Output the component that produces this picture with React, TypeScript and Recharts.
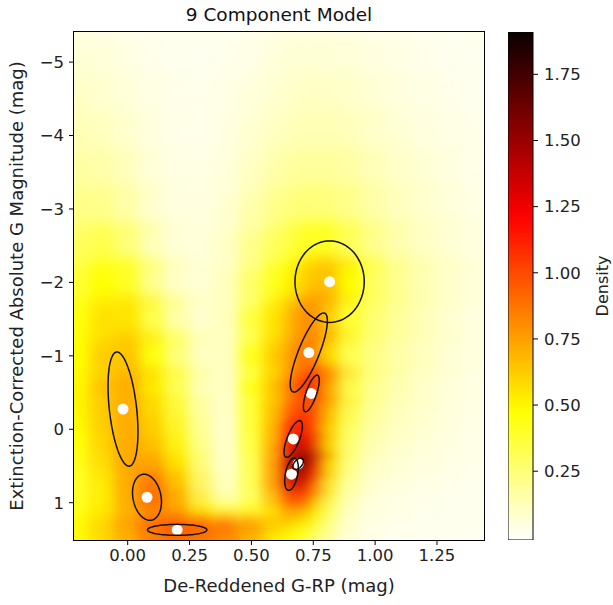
import React from 'react';
import { ScatterChart, Scatter, XAxis, YAxis, BarChart, Bar } from 'recharts';

// axes
const X_DOMAIN: [number, number] = [-0.217, 1.44];
const Y_DOMAIN: [number, number] = [-5.41, 1.508];
const X_TICKS = [0, 0.25, 0.5, 0.75, 1.0, 1.25];
const Y_TICKS = [-5, -4, -3, -2, -1, 0, 1];
const CBAR_TICKS = [0.25, 0.5, 0.75, 1.0, 1.25, 1.5, 1.75];
const VMIN = -0.01;
const VMAX = 1.91;

// density grid (column centres, row centres, values per row)
const gridX = [-0.2, -0.1, 0.0, 0.1, 0.2, 0.3, 0.4, 0.5, 0.6, 0.65, 0.7, 0.75, 0.8, 0.9, 1.0, 1.1, 1.2, 1.3, 1.4];
const gridY = [-5.4, -5.0, -4.5, -4.0, -3.5, -3.0, -2.5, -2.0, -1.5, -1.0, -0.5, -0.25, 0.0, 0.25, 0.5, 0.75, 1.0, 1.2, 1.35, 1.5];
const density = [
  [0.05, 0.04, 0.03, 0.02, 0.02, 0.02, 0.02, 0.03, 0.04, 0.05, 0.05, 0.05, 0.05, 0.04, 0.03, 0.03, 0.02, 0.02, 0.02],
  [0.07, 0.06, 0.04, 0.03, 0.02, 0.02, 0.03, 0.04, 0.06, 0.07, 0.07, 0.07, 0.07, 0.06, 0.05, 0.04, 0.03, 0.02, 0.02],
  [0.10, 0.08, 0.06, 0.04, 0.03, 0.03, 0.04, 0.06, 0.08, 0.09, 0.10, 0.10, 0.10, 0.09, 0.07, 0.05, 0.04, 0.03, 0.02],
  [0.13, 0.11, 0.08, 0.05, 0.03, 0.03, 0.05, 0.08, 0.11, 0.12, 0.13, 0.13, 0.13, 0.12, 0.09, 0.07, 0.05, 0.04, 0.03],
  [0.17, 0.15, 0.11, 0.06, 0.04, 0.04, 0.06, 0.11, 0.15, 0.17, 0.18, 0.18, 0.18, 0.16, 0.12, 0.09, 0.07, 0.05, 0.03],
  [0.22, 0.21, 0.15, 0.08, 0.05, 0.05, 0.08, 0.15, 0.21, 0.23, 0.25, 0.25, 0.24, 0.21, 0.15, 0.11, 0.08, 0.06, 0.04],
  [0.30, 0.33, 0.24, 0.12, 0.06, 0.06, 0.10, 0.21, 0.30, 0.35, 0.40, 0.42, 0.40, 0.30, 0.20, 0.14, 0.10, 0.07, 0.05],
  [0.38, 0.47, 0.40, 0.20, 0.09, 0.07, 0.12, 0.28, 0.42, 0.50, 0.58, 0.65, 0.65, 0.48, 0.28, 0.19, 0.13, 0.09, 0.06],
  [0.45, 0.56, 0.55, 0.33, 0.15, 0.08, 0.12, 0.36, 0.55, 0.66, 0.78, 0.80, 0.62, 0.38, 0.25, 0.18, 0.12, 0.08, 0.05],
  [0.48, 0.62, 0.64, 0.45, 0.24, 0.10, 0.11, 0.42, 0.62, 0.74, 0.85, 0.84, 0.58, 0.32, 0.22, 0.15, 0.11, 0.07, 0.05],
  [0.50, 0.66, 0.71, 0.52, 0.30, 0.11, 0.10, 0.45, 0.66, 0.84, 1.02, 1.08, 0.70, 0.32, 0.19, 0.13, 0.09, 0.06, 0.04],
  [0.50, 0.66, 0.72, 0.55, 0.33, 0.12, 0.09, 0.45, 0.70, 0.92, 1.02, 0.95, 0.60, 0.28, 0.16, 0.11, 0.08, 0.05, 0.04],
  [0.48, 0.65, 0.73, 0.58, 0.37, 0.13, 0.08, 0.44, 0.74, 1.10, 1.15, 0.88, 0.52, 0.24, 0.14, 0.10, 0.07, 0.05, 0.03],
  [0.45, 0.63, 0.74, 0.63, 0.42, 0.15, 0.07, 0.42, 0.78, 1.20, 1.35, 0.92, 0.46, 0.20, 0.12, 0.08, 0.06, 0.04, 0.03],
  [0.42, 0.60, 0.76, 0.72, 0.50, 0.18, 0.07, 0.38, 0.82, 1.38, 1.72, 1.08, 0.48, 0.17, 0.09, 0.07, 0.05, 0.04, 0.03],
  [0.40, 0.55, 0.76, 0.88, 0.58, 0.22, 0.07, 0.38, 0.82, 1.32, 1.42, 0.85, 0.38, 0.14, 0.07, 0.05, 0.04, 0.03, 0.02],
  [0.41, 0.54, 0.76, 0.93, 0.65, 0.28, 0.10, 0.33, 0.72, 1.05, 1.05, 0.65, 0.28, 0.10, 0.05, 0.04, 0.03, 0.02, 0.02],
  [0.44, 0.56, 0.72, 0.82, 0.72, 0.48, 0.36, 0.40, 0.55, 0.78, 0.72, 0.46, 0.20, 0.07, 0.04, 0.03, 0.02, 0.02, 0.02],
  [0.50, 0.65, 0.80, 0.95, 1.00, 0.95, 0.88, 0.75, 0.60, 0.60, 0.52, 0.35, 0.17, 0.06, 0.03, 0.03, 0.02, 0.02, 0.02],
  [0.45, 0.60, 0.72, 0.85, 0.90, 0.85, 0.78, 0.66, 0.50, 0.45, 0.38, 0.26, 0.13, 0.05, 0.03, 0.02, 0.02, 0.02, 0.02],
];

// 9 mixture components: means and ellipse half-extents / tilt
const compX = [0.816, 0.732, 0.742, 0.669, 0.662, 0.689, -0.019, 0.078, 0.2];
const compY = [-2.01, -1.045, -0.488, 0.132, 0.612, 0.47, -0.275, 0.926, 1.37];
const compSx = [0.14, 0.075, 0.032, 0.037, 0.0275, 0.0215, 0.0605, 0.0585, 0.12];
const compSy = [0.555, 0.539, 0.25, 0.25, 0.22, 0.078, 0.778, 0.314, 0.075];
const compRho = [0, -0.8, -0.72, -0.7, -0.4, -0.5, 0.4, 0.2, 0];

// layout
const W = 613;
const H = 605;
const PLOT = { left: 74, top: 32, width: 410, height: 508 };
const KX = PLOT.width / (X_DOMAIN[1] - X_DOMAIN[0]);
const KY = PLOT.height / (Y_DOMAIN[1] - Y_DOMAIN[0]);
const FONT = '"DejaVu Sans", sans-serif';
// each cell runs on under its right/bottom neighbour, which is blurred over it
const BLEED_X = 20;
const BLEED_Y = 30;

const clamp = (v: number) => Math.max(0, Math.min(1, v));

// matplotlib hot_r
function heatColor(v: number) {
  const t = clamp((v - VMIN) / (VMAX - VMIN));
  const s = 1 - t;
  const r = clamp(0.0416 + (s / 0.365079) * (1 - 0.0416));
  const g = clamp((s - 0.365079) / (0.746032 - 0.365079));
  const b = clamp((s - 0.746032) / (1 - 0.746032));
  return `rgb(${Math.round(r * 255)},${Math.round(g * 255)},${Math.round(b * 255)})`;
}

const edge = (arr: number[], i: number, side: -1 | 1, pad: number) => {
  const j = i + side;
  if (j < 0 || j >= arr.length) return arr[i] + side * pad;
  return (arr[i] + arr[j]) / 2;
};

const heatCells = density.flatMap((row, i) =>
  row.map((v, j) => ({
    x: gridX[j],
    y: gridY[i],
    v,
    x0: edge(gridX, j, -1, 0.2),
    x1: edge(gridX, j, 1, 0.15),
    y0: edge(gridY, i, -1, 0.8),
    y1: edge(gridY, i, 1, 0.4),
  }))
);

const comps = compX.map((x, i) => ({
  x,
  y: compY[i],
  sx: compSx[i],
  sy: compSy[i],
  rho: compRho[i],
}));

const cbarData = [{ name: 'density', range: [VMIN, VMAX] }];

const HeatCell = (props: any) => {
  const { cx, cy, payload } = props;
  const left = cx - (payload.x - payload.x0) * KX;
  const top = cy + (payload.y0 - payload.y) * KY;
  return (
    <rect
      x={left}
      y={top}
      width={(payload.x1 - payload.x0) * KX + BLEED_X}
      height={(payload.y1 - payload.y0) * KY + BLEED_Y}
      fill={heatColor(payload.v)}
      filter="url(#heatBlur)"
    />
  );
};

const MeanDot = (props: any) => <circle cx={props.cx} cy={props.cy} r={5.5} fill="#fff" />;

const EllipseShape = (props: any) => {
  const { cx, cy, payload } = props;
  const { sx, sy, rho } = payload;
  const k = Math.sqrt(1 - rho * rho);
  const pts: string[] = [];
  for (let i = 0; i <= 72; i++) {
    const a = (i / 72) * Math.PI * 2;
    const u = Math.cos(a);
    const w = Math.sin(a);
    const px = cx + sx * u * KX;
    const py = cy + sy * (rho * u + k * w) * KY;
    pts.push(`${px.toFixed(2)},${py.toFixed(2)}`);
  }
  return <path d={`M${pts.join('L')}Z`} fill="none" stroke="#111" strokeWidth={1.5} />;
};

const fmtY = (v: number) => (v < 0 ? `\u2212${Math.abs(v)}` : `${v}`);

const tickStyle = { fill: '#222', fontSize: 16.5, fontFamily: FONT };

export default function App() {
  const stops = Array.from({ length: 41 }, (_, i) => i / 40);
  return (
    <div style={{ position: 'absolute', left: 0, top: 0, width: W, height: H, background: '#fff', fontFamily: FONT }}>
      <svg width={1} height={1} style={{ position: 'absolute', left: 0, top: 0 }}>
        <defs>
          <filter id="heatBlur" x="-200%" y="-200%" width="500%" height="500%" colorInterpolationFilters="sRGB">
            <feGaussianBlur stdDeviation="6.5 9" />
          </filter>
          <linearGradient id="cbarGrad" x1="0" y1="0" x2="0" y2="1">
            {stops.map((o) => (
              <stop key={o} offset={o} stopColor={heatColor(VMAX - o * (VMAX - VMIN))} />
            ))}
          </linearGradient>
        </defs>
      </svg>

      <div style={{ position: 'absolute', left: 0, top: 0 }}>
        <ScatterChart
          width={W}
          height={H}
          margin={{ top: PLOT.top, right: W - PLOT.left - PLOT.width, bottom: 35, left: 14 }}
        >
          <XAxis
            type="number"
            dataKey="x"
            domain={X_DOMAIN}
            allowDataOverflow
            ticks={X_TICKS}
            tickFormatter={(v: number) => v.toFixed(2)}
            height={30}
            tickSize={5}
            tickMargin={4}
            axisLine={false}
            stroke="#000"
            tick={tickStyle}
          />
          <YAxis
            type="number"
            dataKey="y"
            domain={Y_DOMAIN}
            reversed
            allowDataOverflow
            ticks={Y_TICKS}
            tickFormatter={fmtY}
            width={60}
            tickSize={5}
            tickMargin={5}
            axisLine={false}
            stroke="#000"
            tick={tickStyle}
          />
          <Scatter data={heatCells} shape={HeatCell} isAnimationActive={false} />
          <Scatter data={comps} shape={MeanDot} isAnimationActive={false} />
          <Scatter data={comps} shape={EllipseShape} isAnimationActive={false} />
        </ScatterChart>
      </div>
      <div
        style={{
          position: 'absolute',
          left: PLOT.left - 1,
          top: PLOT.top - 1,
          width: PLOT.width + 2,
          height: PLOT.height + 2,
          border: '1px solid #000',
          boxSizing: 'border-box',
          pointerEvents: 'none',
        }}
      />

      <div style={{ position: 'absolute', left: 508, top: 0 }}>
        <BarChart width={105} height={H} data={cbarData} margin={{ top: PLOT.top, right: 30, bottom: H - PLOT.top - PLOT.height, left: 0 }} barCategoryGap={0}>
          <XAxis dataKey="name" hide />
          <YAxis
            orientation="right"
            type="number"
            domain={[VMIN, VMAX]}
            allowDataOverflow
            ticks={CBAR_TICKS}
            tickFormatter={(v: number) => v.toFixed(2)}
            width={50}
            tickSize={5}
            tickMargin={6}
            axisLine={false}
            stroke="#000"
            tick={{ fill: '#222', fontSize: 16.5, fontFamily: FONT }}
          />
          <Bar dataKey="range" fill="url(#cbarGrad)" stroke="#000" strokeWidth={1} isAnimationActive={false} />
        </BarChart>
      </div>

      <div style={{ position: 'absolute', left: PLOT.left + PLOT.width / 2, top: 14, transform: 'translate(-50%, -50%)', fontSize: 18.5, color: '#111', whiteSpace: 'nowrap' }}>
        9 Component Model
      </div>
      <div style={{ position: 'absolute', left: PLOT.left + PLOT.width / 2, top: 585, transform: 'translate(-50%, -50%)', fontSize: 18, color: '#222', whiteSpace: 'nowrap' }}>
        De-Reddened G-RP (mag)
      </div>
      <div style={{ position: 'absolute', left: 16, top: PLOT.top + PLOT.height / 2, transform: 'translate(-50%, -50%) rotate(-90deg)', fontSize: 18, color: '#222', whiteSpace: 'nowrap' }}>
        Extinction-Corrected Absolute G Magnitude (mag)
      </div>
      <div style={{ position: 'absolute', left: 602, top: PLOT.top + PLOT.height / 2, transform: 'translate(-50%, -50%) rotate(-90deg)', fontSize: 16, color: '#222', whiteSpace: 'nowrap' }}>
        Density
      </div>
    </div>
  );
}
